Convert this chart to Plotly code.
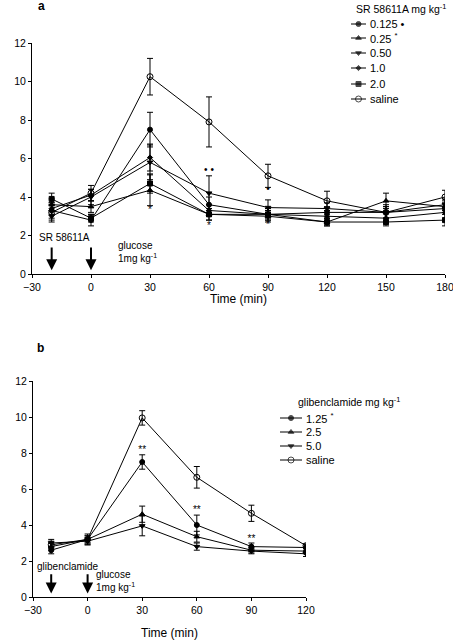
import plotly.graph_objects as go

# ---------------- data: panel a ----------------
time_a = [-20, 0, 30, 60, 90, 120, 150, 180]
names_a = ["0.125 •", "0.25 <sup>*</sup>", "0.50", "1.0", "2.0", "saline"]
a_0125 = [3.3, 2.8, 7.5, 3.6, 3.1, 3.2, 3.2, 3.4]
a_025 = [3.6, 3.5, 4.35, 3.1, 3.0, 2.7, 3.8, 3.5]
a_050 = [3.0, 4.0, 5.8, 4.2, 3.45, 3.4, 3.2, 3.6]
a_10 = [3.4, 4.1, 6.05, 3.3, 3.1, 3.0, 2.9, 3.2]
a_20 = [3.9, 2.9, 4.7, 3.1, 3.1, 2.7, 2.7, 2.8]
a_sal = [3.2, 4.2, 10.25, 7.9, 5.1, 3.8, 3.2, 4.0]
a_0125_err = [0.4, 0.3, 0.9, 0.4, 0.3, 0.3, 0.3, 0.3]
a_025_err = [0.3, 0.3, 0.8, 0.3, 0.3, 0.2, 0.4, 0.3]
a_050_err = [0.3, 0.4, 0.9, 0.9, 0.4, 0.3, 0.3, 0.3]
a_10_err = [0.3, 0.3, 0.7, 0.3, 0.3, 0.3, 0.3, 0.3]
a_20_err = [0.3, 0.2, 0.5, 0.3, 0.2, 0.2, 0.2, 0.3]
a_sal_err = [0.4, 0.4, 0.95, 1.3, 0.6, 0.5, 0.4, 0.35]

# ---------------- data: panel b ----------------
time_b = [-20, 0, 30, 60, 90, 120]
names_b = ["1.25 <sup>*</sup>", "2.5", "5.0", "saline"]
b_125 = [2.6, 3.2, 7.5, 4.0, 2.8, 2.75]
b_25 = [2.8, 3.2, 4.6, 3.35, 2.6, 2.55]
b_50 = [3.0, 3.1, 3.95, 2.8, 2.55, 2.4]
b_sal = [2.9, 3.2, 9.95, 6.65, 4.65, 2.85]
b_125_err = [0.2, 0.2, 0.4, 0.55, 0.2, 0.15]
b_25_err = [0.2, 0.2, 0.45, 0.3, 0.15, 0.15]
b_50_err = [0.2, 0.2, 0.55, 0.2, 0.15, 0.15]
b_sal_err = [0.2, 0.3, 0.4, 0.6, 0.45, 0.1]

# significance marks
sig_a_x = [30, 60, 60, 90, 90]
sig_a_y = [3.3, 5.4, 2.45, 4.4, 2.5]
sig_a_t = ["*", "• •", "*", "•", "*"]
sig_b_x = [30, 60, 90]
sig_b_y = [8.15, 4.8, 3.2]
sig_b_t = ["**", "**", "**"]

FONT = "Liberation Sans, Arial, sans-serif"
W, H = 453, 640
ML, MR = 32, 8
PW = W - ML - MR

fig = go.Figure()

sym_a = ["circle", "triangle-up", "triangle-down", "diamond", "square", "circle-open"]
sizes_a = [5, 5, 5, 4, 5, 6]
series_a = [a_0125, a_025, a_050, a_10, a_20, a_sal]
errs_a = [a_0125_err, a_025_err, a_050_err, a_10_err, a_20_err, a_sal_err]
for nm, ys, er, sy, sz in zip(names_a, series_a, errs_a, sym_a, sizes_a):
    fig.add_trace(go.Scatter(
        x=time_a, y=ys, name=nm, mode="lines+markers",
        line=dict(color="black", width=1),
        marker=dict(symbol=sy, size=sz, color="black", line=dict(color="black", width=1)),
        error_y=dict(type="data", array=er, color="black", thickness=1, width=3),
        xaxis="x", yaxis="y", showlegend=False))

sym_b = ["circle", "triangle-up", "triangle-down", "circle-open"]
sizes_b = [5, 5, 5, 6]
series_b = [b_125, b_25, b_50, b_sal]
errs_b = [b_125_err, b_25_err, b_50_err, b_sal_err]
for nm, ys, er, sy, sz in zip(names_b, series_b, errs_b, sym_b, sizes_b):
    fig.add_trace(go.Scatter(
        x=time_b, y=ys, name=nm, mode="lines+markers",
        line=dict(color="black", width=1),
        marker=dict(symbol=sy, size=sz, color="black", line=dict(color="black", width=1)),
        error_y=dict(type="data", array=er, color="black", thickness=1, width=3),
        xaxis="x2", yaxis="y2", showlegend=False))

fig.add_trace(go.Scatter(x=sig_a_x, y=sig_a_y, text=sig_a_t, mode="text",
                         textfont=dict(size=10, color="black", family=FONT),
                         showlegend=False, xaxis="x", yaxis="y", hoverinfo="skip"))
fig.add_trace(go.Scatter(x=sig_b_x, y=sig_b_y, text=sig_b_t, mode="text",
                         textfont=dict(size=10, color="black", family=FONT),
                         showlegend=False, xaxis="x2", yaxis="y2", hoverinfo="skip"))

# ---------- hand-drawn legends on a pixel overlay axis ----------
def add_legend(title, title_xy, names, syms, sizes, ys, x0, x1, xt):
    fig.add_annotation(text=title, x=title_xy[0], y=title_xy[1], xref="x3", yref="y3",
                       showarrow=False, xanchor="left", yanchor="middle", font=dict(size=10.5))
    for nm, sy, sz, yy in zip(names, syms, sizes, ys):
        fig.add_trace(go.Scatter(x=[x0, (x0 + x1) / 2, x1], y=[yy, yy, yy], mode="lines+markers",
                                 line=dict(color="black", width=1),
                                 marker=dict(symbol=sy, size=[0, sz, 0], color="black",
                                             line=dict(color="black", width=1)),
                                 xaxis="x3", yaxis="y3", showlegend=False, hoverinfo="skip",
                                 cliponaxis=False))
        fig.add_annotation(text=nm, x=xt, y=yy, xref="x3", yref="y3", showarrow=False,
                           xanchor="left", yanchor="middle", font=dict(size=11))

add_legend("SR 58611A mg kg<sup>-1</sup>", (354, 8), names_a, sym_a, sizes_a,
           [24, 38, 53, 68, 84, 99], 351, 366, 368)
add_legend("glibenclamide mg kg<sup>-1</sup>", (296, 401), names_b, sym_b, sizes_b,
           [418, 432, 446, 460], 280, 302, 304)

axis_common = dict(showgrid=False, zeroline=False, showline=True, linecolor="black",
                   linewidth=1, ticks="outside", ticklen=3, tickcolor="black", automargin=False,
                   ticklabeloverflow="allow",
                   tickfont=dict(size=10.5, color="black", family=FONT))

fig.update_layout(
    width=W, height=H, margin=dict(l=ML, r=MR, t=0, b=0),
    paper_bgcolor="white", plot_bgcolor="rgba(0,0,0,0)",
    font=dict(family=FONT, color="black", size=11),
    showlegend=False,
    xaxis=dict(domain=[0, 1], range=[-30, 180], tickvals=[-30, 0, 30, 60, 90, 120, 150, 180],
               anchor="y", **axis_common),
    yaxis=dict(domain=[1 - 274 / H, 1 - 43 / H], range=[0, 12], tickvals=[0, 2, 4, 6, 8, 10, 12],
               anchor="x", **axis_common),
    xaxis2=dict(domain=[(33 - ML) / PW, (306 - ML) / PW], range=[-30, 120],
                tickvals=[-30, 0, 30, 60, 90, 120], anchor="y2", **axis_common),
    yaxis2=dict(domain=[1 - 597 / H, 1 - 381 / H], range=[0, 12], tickvals=[0, 2, 4, 6, 8, 10, 12],
                anchor="x2", **axis_common),
    xaxis3=dict(domain=[0, 1], range=[ML, W - MR], visible=False, fixedrange=True, anchor="y3"),
    yaxis3=dict(domain=[0, 1], range=[H, 0], visible=False, fixedrange=True, anchor="x3"),
)

# axis titles and panel letters (pixel overlay)
titles = [("Time (min)", 238, 299, 0), ("Time (min)", 169, 633, 0),
          ("Blood glucose (mM)", 8, 153, -90), ("Blood glucose (mM)", 8, 483, -90)]
for txt, px, py, ang in titles:
    fig.add_annotation(text=txt, x=px, y=py, xref="x3", yref="y3", showarrow=False,
                       textangle=ang, font=dict(size=12), xanchor="center", yanchor="middle")
fig.add_annotation(text="<b>a</b>", x=41, y=6, xref="x3", yref="y3", showarrow=False,
                   font=dict(size=12), xanchor="center", yanchor="middle")
fig.add_annotation(text="<b>b</b>", x=40, y=348, xref="x3", yref="y3", showarrow=False,
                   font=dict(size=12), xanchor="center", yanchor="middle")

# injection arrows and labels
for xv in [-20, 0]:
    fig.add_annotation(x=xv, y=0.2, ax=xv, ay=1.45, xref="x", yref="y", axref="x", ayref="y",
                       text="", showarrow=True, arrowhead=2, arrowsize=1.1, arrowwidth=2, arrowcolor="black")
    fig.add_annotation(x=xv, y=0.2, ax=xv, ay=1.35, xref="x2", yref="y2", axref="x2", ayref="y2",
                       text="", showarrow=True, arrowhead=2, arrowsize=1.1, arrowwidth=2, arrowcolor="black")
fig.add_annotation(text="SR 58611A", x=37, y=237, xref="x3", yref="y3", showarrow=False,
                   xanchor="left", yanchor="middle", font=dict(size=10))
fig.add_annotation(text="glucose<br>1mg kg<sup>-1</sup>", x=116, y=252, xref="x3", yref="y3",
                   showarrow=False, xanchor="left", yanchor="middle", align="left", font=dict(size=10))
fig.add_annotation(text="glibenclamide", x=35, y=566, xref="x3", yref="y3", showarrow=False,
                   xanchor="left", yanchor="middle", font=dict(size=10))
fig.add_annotation(text="glucose<br>1mg kg<sup>-1</sup>", x=94, y=581, xref="x3", yref="y3",
                   showarrow=False, xanchor="left", yanchor="middle", align="left", font=dict(size=10))

fig.write_html("out.html", config={"displayModeBar": False},
               post_script="document.body.style.margin='0';")
